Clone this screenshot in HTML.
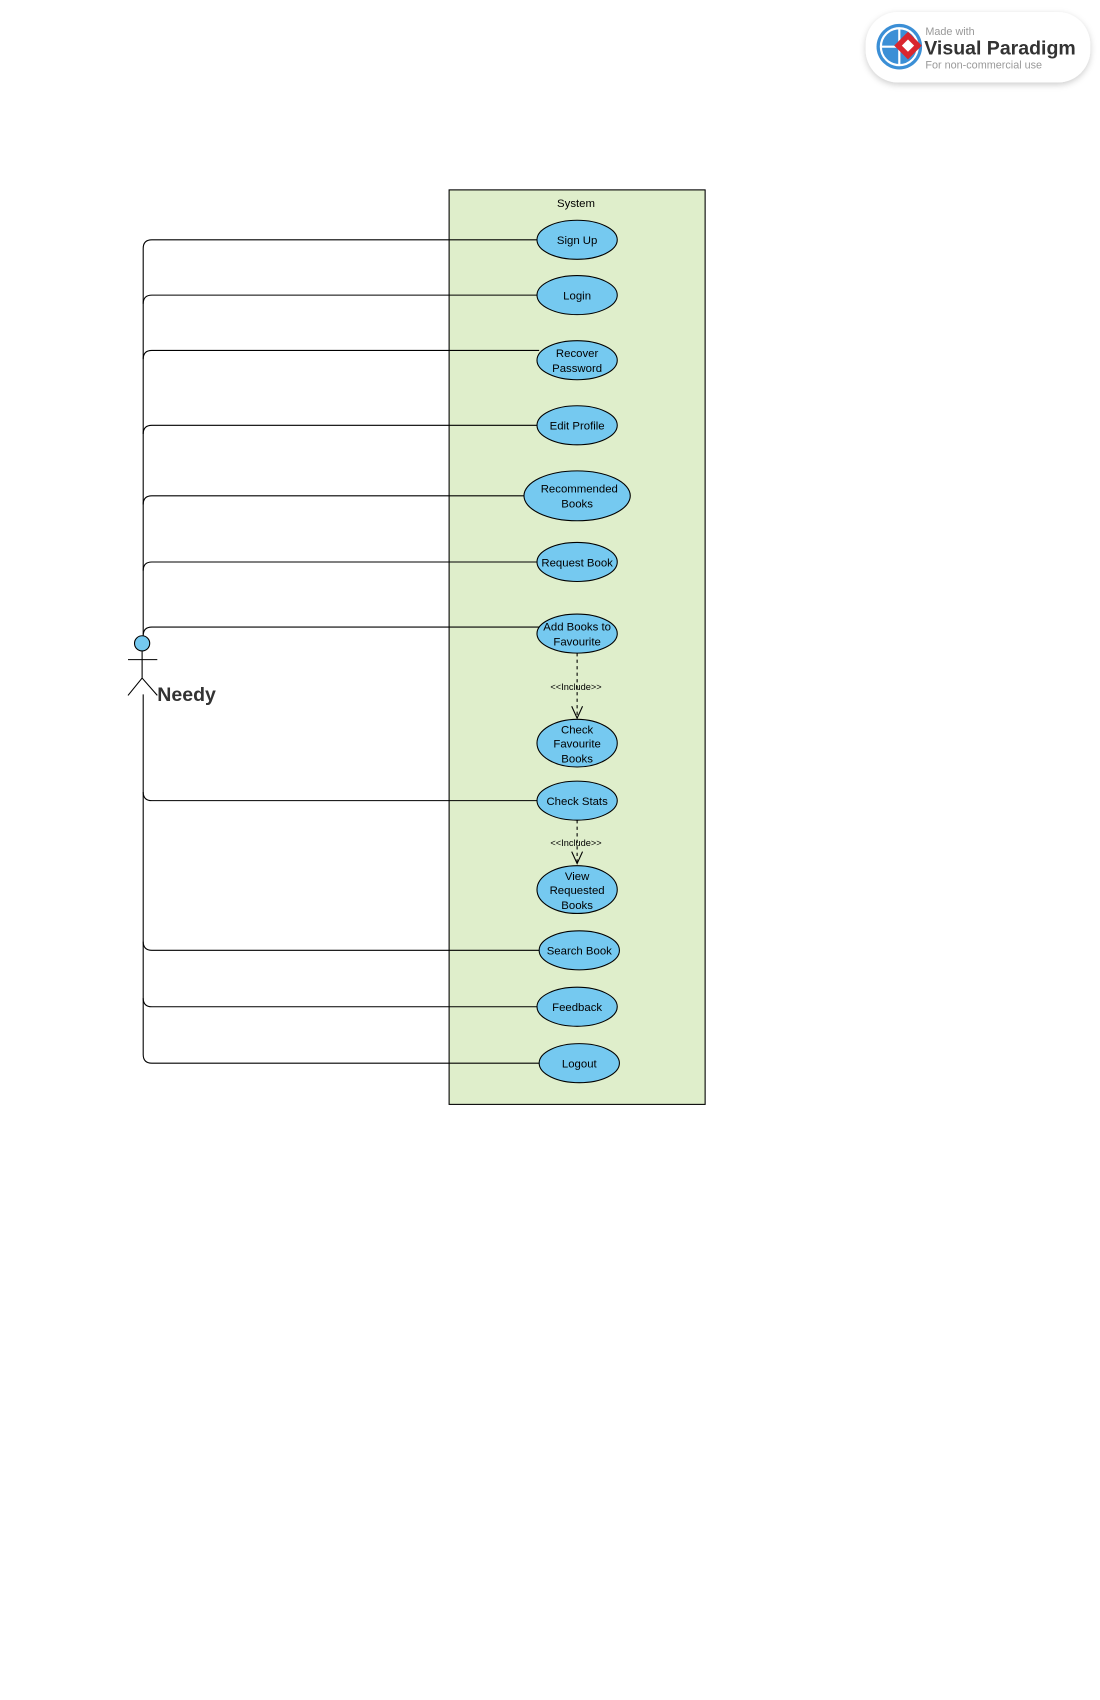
<!DOCTYPE html>
<html><head><meta charset="utf-8"><style>html,body{margin:0;padding:0;background:#fff}svg{display:block}</style></head>
<body>
<svg width="1100" height="1700" viewBox="0 0 1014 1567" xmlns="http://www.w3.org/2000/svg" font-family="Liberation Sans, sans-serif">
<defs><filter id="sh" x="-10%" y="-20%" width="120%" height="150%"><feDropShadow dx="0" dy="2" stdDeviation="3" flood-color="#000" flood-opacity="0.2"/></filter></defs>
<!-- logo -->
<rect x="798" y="11" width="207" height="65" rx="30" fill="#fff" filter="url(#sh)"/>
<circle cx="829" cy="43" r="21" fill="#3b8fd6"/>
<circle cx="829" cy="43" r="17" fill="none" stroke="#fff" stroke-width="2"/>
<path d="M812 43h34M829 26v34" stroke="#fff" stroke-width="2"/>
<rect x="828" y="33" width="18" height="18" transform="rotate(45 837 42)" fill="#d9262f"/>
<rect x="833" y="38" width="8" height="8" transform="rotate(45 837 42)" fill="#fff"/>
<text x="853" y="32" font-size="10" fill="#999">Made with</text>
<text x="852" y="50" font-size="18" font-weight="bold" fill="#333">Visual Paradigm</text>
<text x="853" y="63" font-size="10" fill="#999">For non-commercial use</text>
<!-- system -->
<rect x="414" y="175" width="236" height="843" fill="#dfeecb" stroke="#000" stroke-width="1"/>
<text x="531" y="191" font-size="10.5" text-anchor="middle">System</text>
<g fill="none" stroke="#000" stroke-width="1">
<path d="M132 585V229q0-8 8-8H495"/>
<path d="M132 280q0-8 8-8H495"/>
<path d="M132 331q0-8 8-8H497"/>
<path d="M132 400q0-8 8-8H495"/>
<path d="M132 465q0-8 8-8H483"/>
<path d="M132 526q0-8 8-8H495"/>
<path d="M132 586q0-8 8-8H497"/>
<path d="M132 640V972q0 8 8 8H497"/>
<path d="M132 730q0 8 8 8H495"/>
<path d="M132 868q0 8 8 8H497"/>
<path d="M132 920q0 8 8 8H495"/>
</g>
<!-- actor -->
<circle cx="131" cy="593" r="7" fill="#75c9f0" stroke="#000"/>
<g stroke="#000" fill="none"><path d="M131 600V625M118 608H145M131 625L118 641M131 625L145 641"/></g>
<text x="145" y="646" font-size="18" font-weight="bold" fill="#333">Needy</text>
<!-- include -->
<g stroke="#000" fill="none" stroke-dasharray="3,3"><path d="M532 602V661M532 756V795"/></g>
<g stroke="#000" fill="none"><path d="M527 651L532 662L537 651M527 785L532 796L537 785"/></g>
<text x="531" y="636" font-size="8.5" text-anchor="middle">&lt;&lt;Include&gt;&gt;</text>
<text x="531" y="780" font-size="8.5" text-anchor="middle">&lt;&lt;Include&gt;&gt;</text>
<!-- use cases -->
<g fill="#75c9f0" stroke="#000">
<ellipse cx="532" cy="221" rx="37" ry="18"/>
<ellipse cx="532" cy="272" rx="37" ry="18"/>
<ellipse cx="532" cy="332" rx="37" ry="18"/>
<ellipse cx="532" cy="392" rx="37" ry="18"/>
<ellipse cx="532" cy="457" rx="49" ry="23"/>
<ellipse cx="532" cy="518" rx="37" ry="18"/>
<ellipse cx="532" cy="584" rx="37" ry="18"/>
<ellipse cx="532" cy="685" rx="37" ry="22"/>
<ellipse cx="532" cy="738" rx="37" ry="18"/>
<ellipse cx="532" cy="820" rx="37" ry="22"/>
<ellipse cx="534" cy="876" rx="37" ry="18"/>
<ellipse cx="532" cy="928" rx="37" ry="18"/>
<ellipse cx="534" cy="980" rx="37" ry="18"/>
</g>
<g font-size="10.5" text-anchor="middle" fill="#000">
<text x="532" y="225">Sign Up</text>
<text x="532" y="276">Login</text>
<text x="532" y="329">Recover</text><text x="532" y="343">Password</text>
<text x="534" y="454">Recommended</text><text x="532" y="468">Books</text>
<text x="532" y="396">Edit Profile</text>
<text x="532" y="522">Request Book</text>
<text x="532" y="581">Add Books to</text><text x="532" y="595">Favourite</text>
<text x="532" y="676">Check</text><text x="532" y="689">Favourite</text><text x="532" y="703">Books</text>
<text x="532" y="742">Check Stats</text>
<text x="532" y="811">View</text><text x="532" y="824">Requested</text><text x="532" y="838">Books</text>
<text x="534" y="880">Search Book</text>
<text x="532" y="932">Feedback</text>
<text x="534" y="984">Logout</text>
</g>
</svg>
</body></html>
